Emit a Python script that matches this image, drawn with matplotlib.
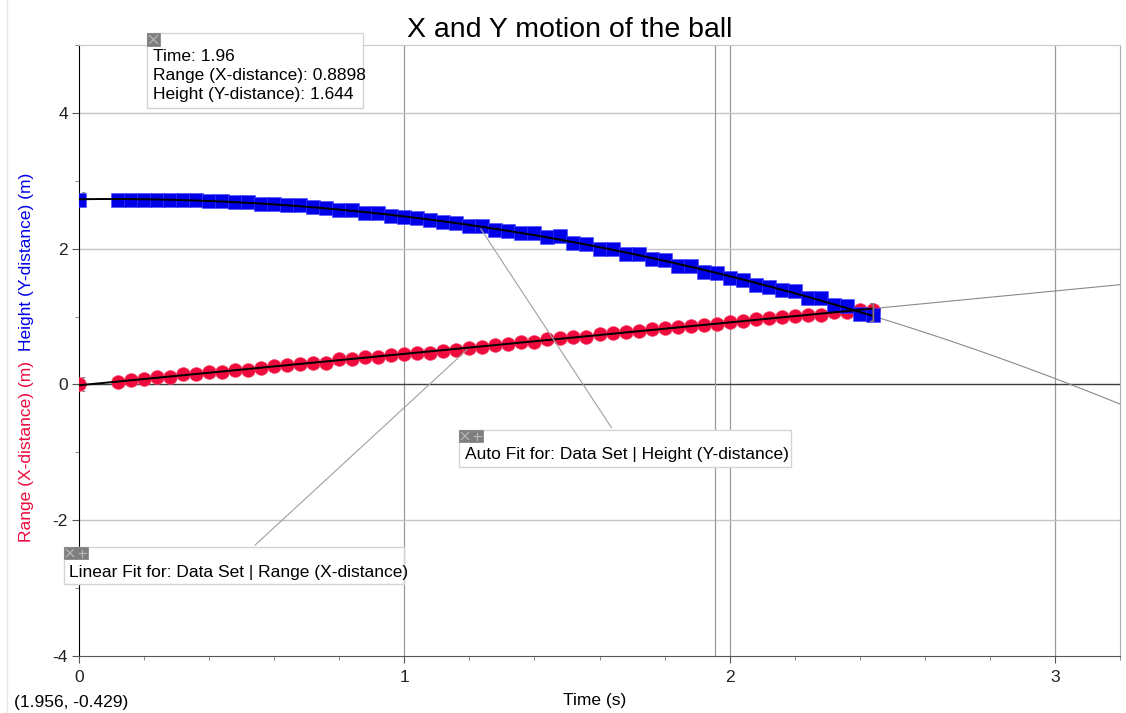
import numpy as np
import matplotlib
matplotlib.use("Agg")
import matplotlib.pyplot as plt
from matplotlib.patches import Rectangle
from matplotlib.lines import Line2D
from matplotlib.ticker import MultipleLocator

plt.rcParams['font.family'] = ['Liberation Sans', 'DejaVu Sans']
plt.rcParams['axes.unicode_minus'] = False

# time samples (s)
time_s = [0.00, 0.12, 0.16, 0.20, 0.24, 0.28, 0.32, 0.36, 0.40, 0.44, 0.48, 0.52,
          0.56, 0.60, 0.64, 0.68, 0.72, 0.76, 0.80, 0.84, 0.88, 0.92, 0.96, 1.00,
          1.04, 1.08, 1.12, 1.16, 1.20, 1.24, 1.28, 1.32, 1.36, 1.40, 1.44, 1.48,
          1.52, 1.56, 1.60, 1.64, 1.68, 1.72, 1.76, 1.80, 1.84, 1.88, 1.92, 1.96,
          2.00, 2.04, 2.08, 2.12, 2.16, 2.20, 2.24, 2.28, 2.32, 2.36, 2.40, 2.44]

# Height (Y-distance), m
height_m = [2.72, 2.72, 2.72, 2.72, 2.72, 2.72, 2.72, 2.72, 2.70, 2.70, 2.69, 2.69,
            2.66, 2.66, 2.64, 2.64, 2.62, 2.60, 2.57, 2.57, 2.53, 2.53, 2.48, 2.47,
            2.445, 2.425, 2.40, 2.38, 2.34, 2.33, 2.28, 2.26, 2.23, 2.23, 2.17, 2.18,
            2.08, 2.07, 1.99, 1.99, 1.92, 1.92, 1.845, 1.835, 1.75, 1.75, 1.66, 1.644,
            1.575, 1.54, 1.46, 1.43, 1.39, 1.38, 1.28, 1.28, 1.17, 1.16, 1.04, 1.03]

# Range (X-distance), m
range_m = [0.00, 0.04, 0.06, 0.075, 0.11, 0.11, 0.15, 0.16, 0.19, 0.19, 0.21, 0.22,
           0.245, 0.27, 0.285, 0.295, 0.32, 0.32, 0.37, 0.37, 0.40, 0.40, 0.43, 0.45,
           0.46, 0.47, 0.49, 0.505, 0.54, 0.555, 0.575, 0.59, 0.625, 0.625, 0.675, 0.68,
           0.70, 0.70, 0.74, 0.76, 0.77, 0.79, 0.82, 0.835, 0.85, 0.86, 0.87, 0.8898,
           0.92, 0.935, 0.96, 0.985, 1.00, 1.01, 1.02, 1.03, 1.06, 1.07, 1.09, 1.10]

examine_t = 1.956

W, H = 1126, 713
FS = 12.5


def fx(px):
    return px / W


def fy(py):
    return 1 - py / H


fig = plt.figure(figsize=(W / 100, H / 100), dpi=100)
ax = fig.add_axes([fx(79), fy(656), fx(1120) - fx(79), fy(45) - fy(656)])

t = np.array(time_s)
h = np.array(height_m)
r = np.array(range_m)

ax.set_xlim(0, 3.2)
ax.set_ylim(-4, 5)

# grid
for gx in [1, 2, 3]:
    ax.axvline(gx, color='#9a9a9a', lw=0.9, zorder=0)
for gy in [-2, 2, 4]:
    ax.axhline(gy, color='#c4c4c4', lw=1.0, zorder=0)
ax.axhline(0, color='#3c3c3c', lw=1.0, zorder=0)
ax.axvline(examine_t, color='#9a9a9a', lw=0.9, zorder=0)

# data
ax.plot(t, r, 'o', ms=10, color='#ee0a3c', mec='#ff4a6a', mew=0.4, zorder=3)
ax.plot(t, h, 's', ms=9.5, color='#0000e8', mec='#4a4aff', mew=0.4, zorder=4)

# fits
pr = np.polyfit(t, r, 1)
ph = np.polyfit(t, h, 2)
tin = np.linspace(t[0], t[-1], 200)
tout = np.linspace(t[-1], 3.2, 50)
ax.plot(tin, np.polyval(pr, tin), color='black', lw=1.4, zorder=5)
ax.plot(tin, np.polyval(ph, tin), color='black', lw=1.4, zorder=5)
ax.plot(tout, np.polyval(pr, tout), color='#8a8a8a', lw=0.8, zorder=2)
ax.plot(tout, np.polyval(ph, tout), color='#8a8a8a', lw=0.8, zorder=2)

# fit range brackets
ax.text(t[-1], (r[-1] + h[-1]) / 2, ']', color='#8a7a6a', fontsize=15,
        ha='center', va='center', zorder=6)
ax.text(t[0] + 0.005, h[0], '[', color='#8a8a8a', fontsize=12,
        ha='left', va='center', zorder=2)
ax.text(t[0] + 0.005, r[0], '[', color='#8a8a8a', fontsize=12,
        ha='left', va='center', zorder=2)

# spines and ticks
ax.spines['left'].set_color('black')
ax.spines['bottom'].set_color('#555555')
ax.spines['top'].set_color('#c8c8c8')
ax.spines['right'].set_color('#b0b0b0')
ax.set_xticks([0, 1, 2, 3])
ax.set_yticks([-4, -2, 0, 2, 4])
ax.xaxis.set_minor_locator(MultipleLocator(0.2))
ax.yaxis.set_minor_locator(MultipleLocator(1))
ax.tick_params(which='major', length=5, width=0.8, color='#555555', labelsize=FS,
               labelcolor='#222222')
ax.tick_params(which='minor', length=3, width=0.6, color='#777777')
ax.tick_params(axis='x', pad=5)
ax.tick_params(axis='y', pad=3)

# titles / labels
fig.text(fx(570), fy(30), 'X and Y motion of the ball', ha='center', va='center',
         fontsize=20.5, color='black')
fig.text(fx(595), fy(700), 'Time (s)', ha='center', va='center', fontsize=FS)
fig.text(fx(27), fy(452), 'Range (X-distance) (m)', rotation=90, ha='center',
         va='center', fontsize=FS, color='#ee0a3c')
fig.text(fx(27), fy(262), 'Height (Y-distance) (m)', rotation=90, ha='center',
         va='center', fontsize=FS, color='#0000e8')
fig.text(fx(14), fy(703), '(1.956, -0.429)', ha='left', va='center', fontsize=FS)

# outer frame line on the left
fig.add_artist(Line2D([fx(7), fx(7)], [0, 1], color='#e6e6e6', lw=1))


def box(x0, y0, w, hgt):
    fig.add_artist(Rectangle((fx(x0), fy(y0 + hgt)), w / W, hgt / H,
                             transform=fig.transFigure, fc='white',
                             ec='#d4d4d4', lw=1, zorder=10))


def icon(x0, y0, size, kind):
    fig.add_artist(Rectangle((fx(x0), fy(y0 + size)), size / W, size / H,
                             transform=fig.transFigure, fc='#7e7e7e',
                             ec='#7e7e7e', lw=0.5, zorder=11))
    m = 2.5
    if kind == 'x':
        fig.add_artist(Line2D([fx(x0 + m), fx(x0 + size - m)],
                              [fy(y0 + m), fy(y0 + size - m)],
                              color='#b8b8b8', lw=0.9, zorder=12))
        fig.add_artist(Line2D([fx(x0 + m), fx(x0 + size - m)],
                              [fy(y0 + size - m), fy(y0 + m)],
                              color='#b8b8b8', lw=0.9, zorder=12))
    else:
        fig.add_artist(Line2D([fx(x0 + size / 2), fx(x0 + size / 2)],
                              [fy(y0 + m), fy(y0 + size - m)],
                              color='#b8b8b8', lw=0.9, zorder=12))
        fig.add_artist(Line2D([fx(x0 + m), fx(x0 + size - m)],
                              [fy(y0 + size / 2), fy(y0 + size / 2)],
                              color='#b8b8b8', lw=0.9, zorder=12))


# examine box
box(147, 33, 216, 75)
icon(147, 33, 13, 'x')
fig.text(fx(153), fy(49), 'Time: 1.96\nRange (X-distance): 0.8898\nHeight (Y-distance): 1.644',
         ha='left', va='top', fontsize=FS, linespacing=1.35, zorder=13)

# connector lines to fit boxes
ax.annotate('', xy=(1.23, np.polyval(ph, 1.23)), xycoords='data',
            xytext=(fx(613), fy(430)), textcoords='figure fraction',
            arrowprops=dict(arrowstyle='-', color='#a0a0a0', lw=0.8), zorder=6)
ax.annotate('', xy=(1.2, np.polyval(pr, 1.2)), xycoords='data',
            xytext=(fx(253), fy(547)), textcoords='figure fraction',
            arrowprops=dict(arrowstyle='-', color='#a0a0a0', lw=0.8), zorder=6)

# fit boxes
box(459, 430, 332, 37)
icon(459, 430, 12, 'x')
icon(471, 430, 12, '+')
fig.text(fx(465), fy(455), 'Auto Fit for: Data Set | Height (Y-distance)',
         ha='left', va='center', fontsize=FS, zorder=13)

box(64, 547, 340, 37)
icon(64, 547, 12, 'x')
icon(76, 547, 12, '+')
fig.text(fx(69), fy(572), 'Linear Fit for: Data Set | Range (X-distance)',
         ha='left', va='center', fontsize=FS, zorder=13)

fig.savefig('out.png', dpi=100)
